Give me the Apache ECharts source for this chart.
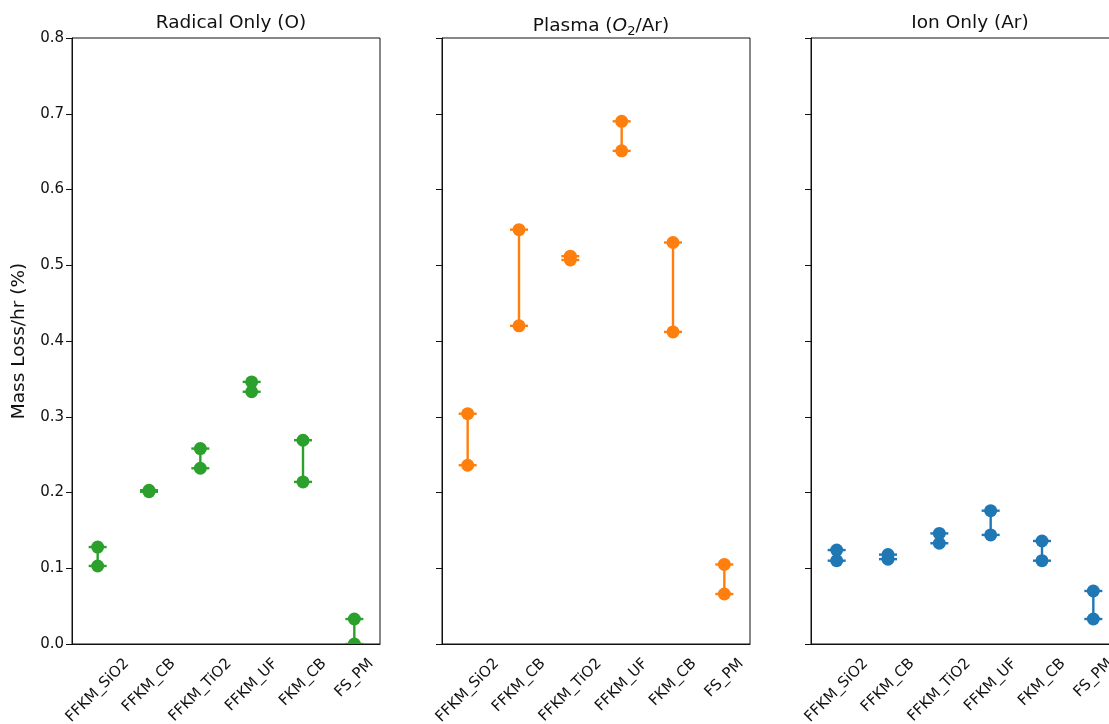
<!DOCTYPE html>
<html>
<head>
<meta charset="utf-8">
<script src="https://cdn.jsdelivr.net/npm/echarts@6/dist/echarts.min.js"></script>
<style>
html,body{margin:0;padding:0;background:#fff;}
#c{width:1109px;height:724px;}
</style>
</head>
<body>
<div id="c"></div>
<script>
// ---- data ----
const categories = ['FFKM_SiO2', 'FFKM_CB', 'FFKM_TiO2', 'FFKM_UF', 'FKM_CB', 'FS_PM'];
const radicalLow  = [0.103, 0.201, 0.232, 0.333, 0.214, 0.000];
const radicalHigh = [0.128, 0.203, 0.258, 0.346, 0.269, 0.033];
const plasmaLow   = [0.236, 0.420, 0.507, 0.651, 0.412, 0.066];
const plasmaHigh  = [0.304, 0.547, 0.512, 0.690, 0.530, 0.105];
const ionLow      = [0.110, 0.112, 0.133, 0.144, 0.110, 0.033];
const ionHigh     = [0.124, 0.118, 0.146, 0.176, 0.136, 0.070];
const yTicks = ['0.0', '0.1', '0.2', '0.3', '0.4', '0.5', '0.6', '0.7', '0.8'];
const panelTitles = ['Radical Only (O)', '{n|Plasma (}{i|O}{s|2}{n|/Ar)}', 'Ion Only (Ar)'];
const yAxisName = 'Mass Loss/hr (%)';

const colors = ['#2ca02c', '#ff7f0e', '#1f77b4'];
const panels = [[radicalLow, radicalHigh], [plasmaLow, plasmaHigh], [ionLow, ionHigh]];
const gridLefts = [72, 442, 811];
const gridW = 308;
const FONT = 'DejaVu Sans';
const TICK_FS = 15;

// measure label widths so rotated labels can be centred under ticks (matplotlib style)
const mctx = document.createElement('canvas').getContext('2d');
mctx.font = TICK_FS + 'px "' + FONT + '"';
const labelRich = {};
categories.forEach((c, k) => {
  const L = mctx.measureText(c).width;
  const s = (L + TICK_FS) / 2;
  labelRich['l' + k] = {fontFamily: FONT, fontSize: TICK_FS, color: '#111', padding: [s, s, 0, 0]};
});

const chart = echarts.init(document.getElementById('c'), null, {renderer: 'canvas'});

function makeRender(color) {
  return function (params, api) {
    const lo = api.coord([api.value(0), api.value(1)]);
    const hi = api.coord([api.value(0), api.value(2)]);
    const cw = 9, r = 6.5;
    const ls = {stroke: color, lineWidth: 2.4};
    return {
      type: 'group',
      children: [
        {type: 'line', shape: {x1: lo[0], y1: lo[1], x2: hi[0], y2: hi[1]}, style: ls},
        {type: 'line', shape: {x1: lo[0] - cw, y1: lo[1], x2: lo[0] + cw, y2: lo[1]}, style: ls},
        {type: 'line', shape: {x1: hi[0] - cw, y1: hi[1], x2: hi[0] + cw, y2: hi[1]}, style: ls},
        {type: 'circle', shape: {cx: lo[0], cy: lo[1], r: r}, style: {fill: color}},
        {type: 'circle', shape: {cx: hi[0], cy: hi[1], r: r}, style: {fill: color}}
      ]
    };
  };
}

const grids = [], xAxes = [], yAxes = [], series = [], titles = [];
panels.forEach((p, i) => {
  grids.push({left: gridLefts[i], top: 38, width: gridW, height: 606, show: true,
    outerBoundsMode: 'none', containLabel: false,
    borderColor: '#111', borderWidth: 1, backgroundColor: 'transparent'});
  xAxes.push({
    type: 'category', gridIndex: i, data: categories, boundaryGap: true,
    axisLine: {lineStyle: {color: '#111', width: 1}},
    axisTick: {alignWithLabel: true, length: 6, lineStyle: {color: '#111'}},
    axisLabel: {rotate: 45, interval: 0, hideOverlap: false, align: 'center', verticalAlign: 'middle',
      color: '#111', fontFamily: FONT, fontSize: TICK_FS, margin: 12,
      formatter: (v, k) => '{l' + k + '|' + v + '}', rich: labelRich}
  });
  yAxes.push({
    type: 'value', gridIndex: i, min: 0, max: 0.8, interval: 0.1,
    name: i === 0 ? yAxisName : '', nameLocation: 'middle', nameGap: 43,
    nameTextStyle: {fontFamily: FONT, fontSize: 18.5, color: '#111'},
    splitLine: {show: false},
    axisLine: {show: true, lineStyle: {color: '#111', width: 1}},
    axisTick: {show: true, length: 6, lineStyle: {color: '#111'}},
    axisLabel: {show: i === 0, color: '#111', fontFamily: FONT, fontSize: TICK_FS, margin: 8,
      formatter: (v) => yTicks[Math.round(v * 10)]}
  });
  series.push({
    type: 'custom', xAxisIndex: i, yAxisIndex: i, clip: true,
    renderItem: makeRender(colors[i]),
    encode: {x: 0, y: [1, 2]},
    data: categories.map((c, k) => [k, p[0][k], p[1][k]])
  });
  titles.push({
    text: panelTitles[i], left: gridLefts[i] + gridW / 2, top: 9, textAlign: 'center',
    textStyle: {fontFamily: FONT, fontSize: 18.5, fontWeight: 'normal', color: '#111',
      rich: {
        n: {fontFamily: FONT, fontSize: 18.5, color: '#111'},
        i: {fontFamily: FONT, fontSize: 18.5, fontStyle: 'italic', color: '#111'},
        s: {fontFamily: FONT, fontSize: 13, color: '#111', padding: [11, 0, 0, 0]}
      }}
  });
});

chart.setOption({
  animation: false,
  backgroundColor: '#fff',
  title: titles,
  grid: grids,
  xAxis: xAxes,
  yAxis: yAxes,
  series: series
});
</script>
</body>
</html>
